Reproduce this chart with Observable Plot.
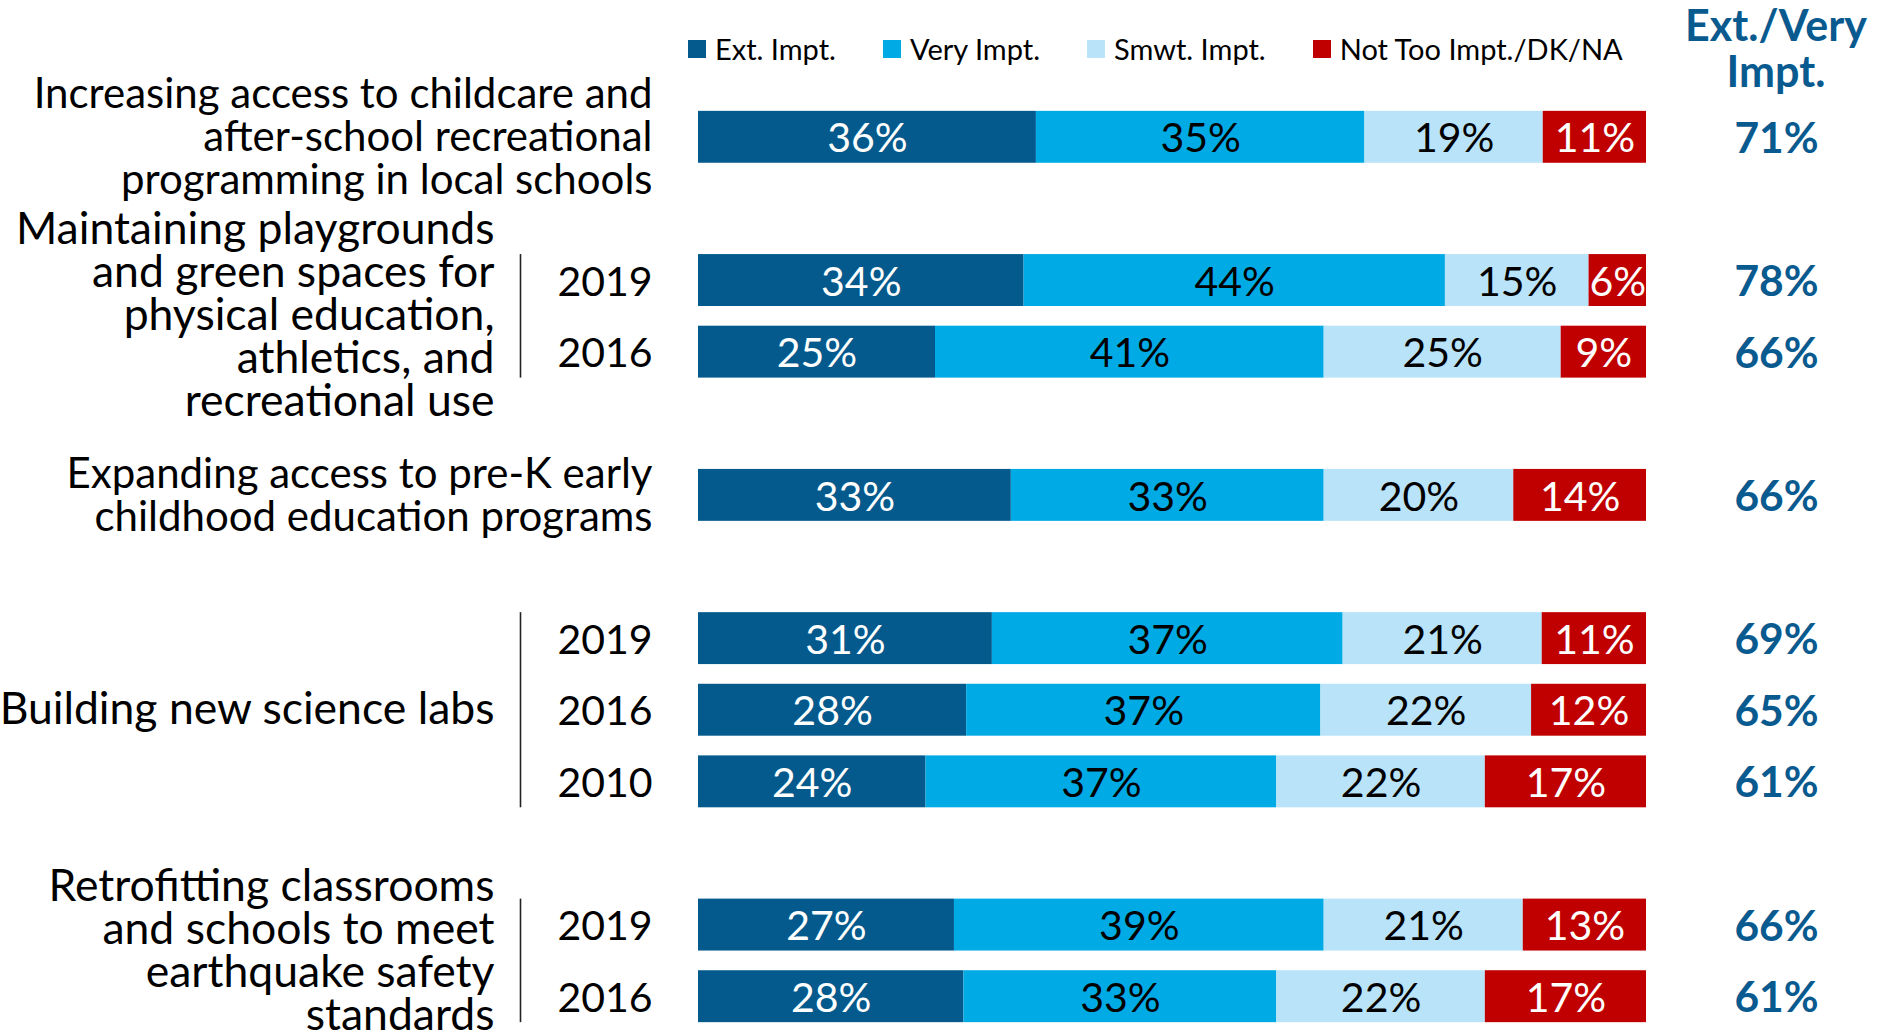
<!DOCTYPE html>
<html>
<head>
<meta charset="utf-8">
<script src="https://cdn.jsdelivr.net/npm/d3@7"></script>
<script src="https://cdn.jsdelivr.net/npm/@observablehq/plot@0.6"></script>
<style>
  html, body { margin: 0; padding: 0; background: #fff; }
  #wrap { position: relative; width: 1877px; height: 1033px; overflow: hidden; font-family: Lato, "Open Sans", sans-serif; }
  #head { position: relative; height: 100px; }
  #legend { position: absolute; left: 688px; top: 34px; display: flex; gap: 47px; font-size: 29px; line-height: 30px; color: #000; white-space: nowrap; }
  #legend .item { display: flex; align-items: center; }
  #legend .sw { width: 18px; height: 18px; margin-right: 9px; }
  #sumhead { position: absolute; left: 1676px; width: 200px; top: 2px; text-align: center; font-weight: bold; font-size: 43px; line-height: 46px; color: #095A8F; }
  #chart svg { display: block; }
</style>
</head>
<body>
<div id="wrap">
  <div id="head">
    <div id="legend"></div>
    <div id="sumhead"></div>
  </div>
  <div id="chart"></div>
</div>
<script>
// ---- Data ----
const categories = ["Ext. Impt.", "Very Impt.", "Smwt. Impt.", "Not Too Impt./DK/NA"];
const colors = ["#045A8D", "#00AAE4", "#B8E3F9", "#C00000"];
const totalHeader = "Ext./Very\nImpt.";

const rowIds = ["Childcare", "Playgrounds 2019", "Playgrounds 2016", "Pre-K",
  "Science 2019", "Science 2016", "Science 2010", "Retrofit 2019", "Retrofit 2016"];
const rowYears = ["", "2019", "2016", "", "2019", "2016", "2010", "2019", "2016"];

const extImpt    = [36, 34, 25, 33, 31, 28, 24, 27, 28];
const veryImpt   = [35, 44, 41, 33, 37, 37, 37, 39, 33];
const smwtImpt   = [19, 15, 25, 20, 21, 22, 22, 21, 22];
const notTooImpt = [11,  6,  9, 14, 11, 12, 17, 13, 17];
const extVeryImpt = [71, 78, 66, 66, 69, 65, 61, 66, 61];

const topicLabels = [
  "Increasing access to childcare and\nafter-school recreational\nprogramming in local schools",
  "Maintaining playgrounds\nand green spaces for\nphysical education,\nathletics, and\nrecreational use",
  "Expanding access to pre-K early\nchildhood education programs",
  "Building new science labs",
  "Retrofitting classrooms\nand schools to meet\nearthquake safety\nstandards"
];
const topicRows = [
  ["Childcare"],
  ["Playgrounds 2019", "Playgrounds 2016"],
  ["Pre-K"],
  ["Science 2019", "Science 2016", "Science 2010"],
  ["Retrofit 2019", "Retrofit 2016"]
];
// band-scale order, with empty spacer slots between topics
const yDomain = ["Childcare", "gap1", "Playgrounds 2019", "Playgrounds 2016", "gap2", "Pre-K", "gap3",
  "Science 2019", "Science 2016", "Science 2010", "gap4", "Retrofit 2019", "Retrofit 2016"];

// ---- Build tables ----
const series = [extImpt, veryImpt, smwtImpt, notTooImpt];
const cells = rowIds.flatMap((row, i) => categories.map((cat, k) => ({row, cat, value: series[k][i]})));
const rows = rowIds.map((row, i) => ({row, year: rowYears[i], total: extVeryImpt[i]}));
const topics = topicLabels.map((label, t) => ({
  label, first: topicRows[t][0], last: topicRows[t][topicRows[t].length - 1],
  withYears: topicRows[t].length > 1, isLast: t === topicLabels.length - 1
}));

const FONT = "Lato, 'Open Sans', sans-serif";
const FS = 41;            // bar values, years
const FS_TOPIC = 42;      // single-row topic labels
const FS_TOPIC_GRP = 44.5; // topic labels of multi-year groups
const yOpts = {domain: yDomain, range: [1, 932], paddingInner: 0.275, paddingOuter: 0.1375, round: false, axis: null};
const yScale = Plot.scale({y: yOpts});
const whiteText = new Set([categories[0], categories[3]]);

const stackOpts = {offset: "normalize", x: "value", y: "row", z: "cat", order: categories};

const topicMarks = topics.map(t => {
  const fs = t.withYears ? FS_TOPIC_GRP : FS_TOPIC;
  return Plot.text([t], {
    y: d => d.first,
    text: "label",
    frameAnchor: "left",
    textAnchor: "end",
    lineAnchor: "middle",
    lineHeight: 43 / fs,
    dx: t.withYears ? -204 : -46,
    dy: (yScale.apply(t.last) - yScale.apply(t.first)) / 2 - (t.isLast ? 9 : 0),
    fontSize: fs,
    fill: "#000"
  });
});

const chart = Plot.plot({
  width: 1877,
  height: 933,
  marginLeft: 698,
  marginRight: 231,
  marginTop: 1,
  marginBottom: 1,
  x: {domain: [0, 1], axis: null},
  y: yOpts,
  color: {domain: categories, range: colors},
  style: {fontFamily: FONT, background: "white", overflow: "visible"},
  marks: [
    Plot.barX(cells, Plot.stackX({...stackOpts, fill: "cat"})),
    Plot.text(cells, Plot.stackX({...stackOpts, text: d => whiteText.has(d.cat) ? `${d.value}%` : null, fill: "white", fontSize: FS, dy: 2})),
    Plot.text(cells, Plot.stackX({...stackOpts, text: d => whiteText.has(d.cat) ? null : `${d.value}%`, fill: "black", fontSize: FS, dy: 2})),
    Plot.text(rows, {y: "row", text: "year", frameAnchor: "left", textAnchor: "end", dx: -46, dy: 2, fontSize: FS, fill: "#000"}),
    Plot.ruleX(topics.filter(t => t.withYears), {x: () => 0, y1: "first", y2: "last", dx: -178, stroke: "#222", strokeWidth: 1.6}),
    ...topicMarks,
    Plot.text(rows, {y: "row", text: d => `${d.total}%`, frameAnchor: "right", textAnchor: "middle", dx: 130, dy: 2, fontSize: 42.5, fontWeight: "bold", fill: "#095A8F"})
  ]
});
document.getElementById("chart").appendChild(chart);

// ---- Legend & right-column header (HTML, above the SVG) ----
const legend = document.getElementById("legend");
categories.forEach((c, i) => {
  const item = document.createElement("div");
  item.className = "item";
  const sw = document.createElement("span");
  sw.className = "sw";
  sw.style.background = colors[i];
  const tx = document.createElement("span");
  tx.textContent = c;
  item.appendChild(sw); item.appendChild(tx);
  legend.appendChild(item);
});
document.getElementById("sumhead").innerText = totalHeader;
</script>
</body>
</html>
